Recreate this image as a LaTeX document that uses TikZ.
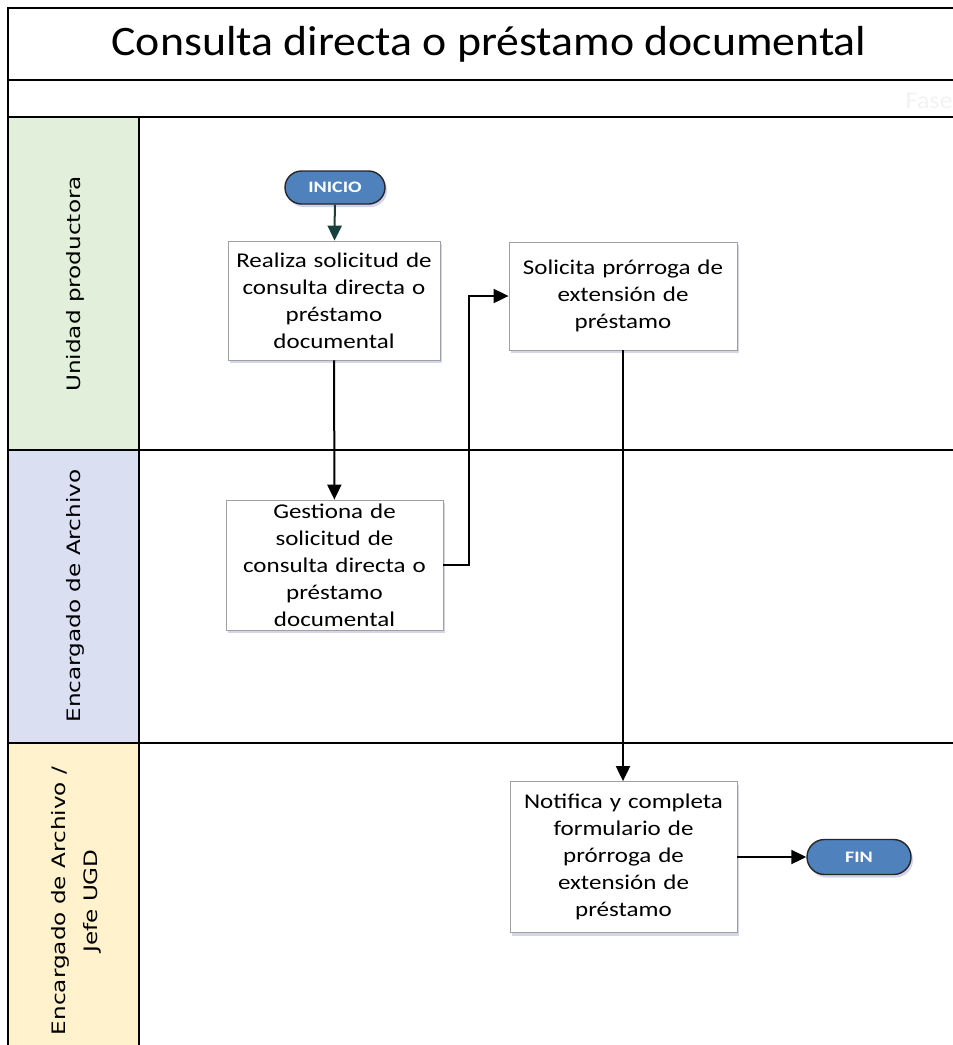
\documentclass[tikz,border=0pt]{standalone}
\usepackage{fontspec}
\setmainfont{Carlito}
\newfontfamily\titlefont[FakeStretch=1.09]{Carlito}
\newfontfamily\taskfont[FakeStretch=1.19]{Carlito}
\newfontfamily\termfont[FakeStretch=1.25]{Carlito}
\newfontfamily\lanefont[FakeStretch=1.25]{DejaVu Sans}
\usetikzlibrary{arrows.meta,shadows,shapes.misc}

\definecolor{laneGreen}{RGB}{226,239,218}
\definecolor{laneBlue}{RGB}{218,224,242}
\definecolor{laneYellow}{RGB}{255,242,204}
\definecolor{termFill}{RGB}{79,129,189}
\definecolor{startArrow}{RGB}{22,64,58}
\definecolor{boxLine}{RGB}{160,160,160}

\tikzset{
  frame/.style={line width=1.6pt, black},
  lanelabel/.style={rotate=90, font=\lanefont\fontsize{18.5}{32}\selectfont, align=center},
  task/.style={draw=boxLine, line width=0.8pt, fill=white, align=center,
    inner xsep=3pt, inner ysep=0pt,
    font=\taskfont\fontsize{21}{27}\selectfont,
    drop shadow={shadow xshift=2pt, shadow yshift=-3pt, fill=blue!30!gray, opacity=0.25}},
  terminal/.style={rounded rectangle, draw=black!85, line width=1.4pt, fill=termFill,
    text=white, font=\termfont\bfseries\fontsize{16}{18}\selectfont, inner sep=0pt,
    drop shadow={shadow xshift=2pt, shadow yshift=-3pt, fill=blue!40!gray, opacity=0.25}},
  flow/.style={line width=2pt, black, -{Triangle[length=15pt,width=14pt]}},
  startflow/.style={flow, startArrow}
}

\begin{document}
\begin{tikzpicture}[x=1pt, y=-1pt]
\useasboundingbox (0,0) rectangle (953,1045);
\clip (0,0) rectangle (953,1045);

% lane header fills
\fill[laneGreen]  (8,117) rectangle (139,450);
\fill[laneBlue]   (8,450) rectangle (139,743);
\fill[laneYellow] (8,743) rectangle (139,1050);

% title and phase rows
\node (title) at (489,44) {\titlefont\fontsize{42}{48}\selectfont Consulta directa o préstamo documental};
\node[anchor=west, text=black!5, font=\titlefont\fontsize{24}{26}\selectfont] (phase) at (902,101) {Fase};

% frame and lane separators
\draw[frame] (8,1050) -- (8,8) -- (960,8);
\draw[frame] (8,80) -- (960,80);
\draw[frame] (8,117) -- (960,117);
\draw[frame] (8,450) -- (960,450);
\draw[frame] (8,743) -- (960,743);
\draw[frame] (139,117) -- (139,1050);

% lane labels
\node[lanelabel] (laneA) at (75,284) {Unidad productora};
\node[lanelabel] (laneB) at (75,596) {Encargado de Archivo};
\node[lanelabel] (laneC) at (76,901) {Encargado de Archivo /\\Jefe UGD};

% terminals
\node[terminal, minimum width=100pt, minimum height=33pt] (start) at (335,187.5) {INICIO};
\node[terminal, minimum width=104pt, minimum height=35pt] (end) at (859,857) {FIN};

% activities
\node[task, text width=206pt, minimum height=119pt] (req) at (334,300.5)
  {Realiza solicitud de\\consulta directa o\\préstamo\\documental};
\node[task, text width=222pt, minimum height=108pt] (ext) at (623,296)
  {Solicita prórroga de\\extensión de\\préstamo};
\node[task, text width=211pt, minimum height=130pt] (mgmt) at (334.5,565)
  {Gestiona de\\solicitud de\\consulta directa o\\préstamo\\documental};
\node[task, text width=221pt, minimum height=151pt] (notify) at (623.5,857)
  {Notifica y completa\\formulario de\\prórroga de\\extensión de\\préstamo};

% connectors
\draw[startflow] (start) -- (req);
\draw[flow] (req) -- (mgmt);
\draw[flow] (mgmt.east) -- ++(26,0) |- (ext.west);
\draw[flow] (ext.south) -- (ext.south |- notify.north);
\draw[flow] (notify) -- (end);
\end{tikzpicture}
\end{document}
